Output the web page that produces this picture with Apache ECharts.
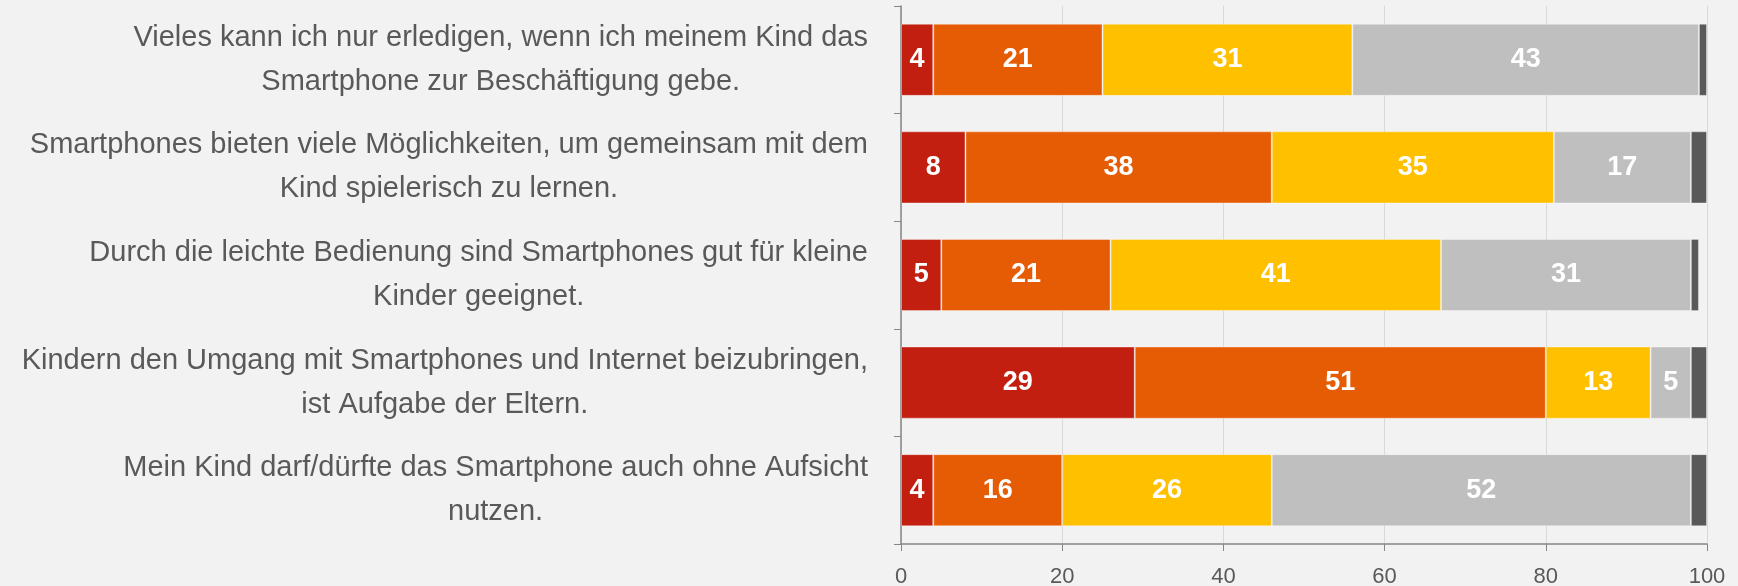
<!DOCTYPE html>
<html>
<head>
<meta charset="utf-8">
<script src="https://cdn.jsdelivr.net/npm/echarts@6/dist/echarts.min.js"></script>
<style>
  html, body { margin: 0; padding: 0; background: #F2F2F2; }
  #chart { width: 1738px; height: 586px; }
</style>
</head>
<body>
<div id="chart"></div>
<script>
const categories = [
  'Vieles kann ich nur erledigen, wenn ich meinem Kind das\nSmartphone zur Beschäftigung gebe.',
  'Smartphones bieten viele Möglichkeiten, um gemeinsam mit dem\nKind spielerisch zu lernen.',
  'Durch die leichte Bedienung sind Smartphones gut für kleine\nKinder geeignet.',
  'Kindern den Umgang mit Smartphones und Internet beizubringen,\nist Aufgabe der Eltern.',
  'Mein Kind darf/dürfte das Smartphone auch ohne Aufsicht\nnutzen.'
];
const seriesA = [4, 8, 5, 29, 4];
const seriesB = [21, 38, 21, 51, 16];
const seriesC = [31, 35, 41, 13, 26];
const seriesD = [43, 17, 31, 5, 52];
const seriesE = [1, 2, 1, 2, 2];
const xTicks = [0, 20, 40, 60, 80, 100];

const colors = ['#C21F10', '#E65C04', '#FFC000', '#BFBFBF', '#595959'];
const FONT = '"Liberation Sans Narrow", "Liberation Sans", sans-serif';

const chart = echarts.init(document.getElementById('chart'));

function makeSeries(data, i, showLabel) {
  return {
    type: 'bar',
    stack: 'all',
    data: data,
    barCategoryGap: '33%',
    itemStyle: { color: colors[i], borderColor: 'rgba(255,255,255,0.35)', borderWidth: 1 },
    label: {
      show: showLabel,
      position: 'inside',
      color: '#FFFFFF',
      fontWeight: 'bold',
      fontSize: 27,
      fontFamily: FONT
    },
    emphasis: { disabled: true }
  };
}

chart.setOption({
  backgroundColor: '#F2F2F2',
  animation: false,
  grid: { left: 901, right: 31, top: 6, bottom: 42, outerBoundsMode: 'none', containLabel: false },
  xAxis: {
    type: 'value',
    min: 0,
    max: 100,
    interval: 20,
    axisLine: { show: true, lineStyle: { color: '#868686', width: 1.5 } },
    axisTick: { show: true, length: 7, lineStyle: { color: '#868686' } },
    splitLine: { show: true, lineStyle: { color: '#D9D9D9', width: 1 } },
    axisLabel: {
      color: '#595959', fontSize: 22, fontFamily: FONT, margin: 22,
      formatter: v => xTicks.includes(v) ? String(v) : ''
    }
  },
  yAxis: {
    type: 'category',
    inverse: true,
    data: categories,
    axisLine: { show: true, lineStyle: { color: '#868686', width: 1.5 } },
    axisTick: { show: true, length: 7, alignWithLabel: false, lineStyle: { color: '#868686' } },
    axisLabel: {
      margin: 33,
      formatter: v => v.split('\n').map(l => '{c|' + l + '}').join('\n'),
      rich: {
        c: { align: 'center', color: '#595959', fontSize: 29, fontFamily: FONT, lineHeight: 44 }
      }
    }
  },
  series: [
    makeSeries(seriesA, 0, true),
    makeSeries(seriesB, 1, true),
    makeSeries(seriesC, 2, true),
    makeSeries(seriesD, 3, true),
    makeSeries(seriesE, 4, false)
  ]
});
</script>
</body>
</html>
